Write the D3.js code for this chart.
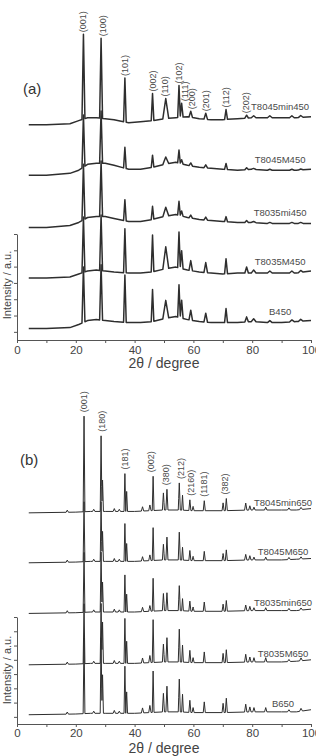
<!DOCTYPE html>
<html>
<head>
<meta charset="utf-8">
<script src="https://cdn.jsdelivr.net/npm/d3@7"></script>
<style>
    html, body { margin: 0; padding: 0; background: #fff; overflow: hidden; }
    svg { display: block; font-family: 'Liberation Sans', Arial, sans-serif; }
</style>
</head>
<body>
<div id="chart"></div>
<script>
// XRD patterns - stacked traces, panel (a) calcined 450, panel (b) calcined 650

// ---- panel (a) ----
const seriesA = ['B450', 'T8035M450', 'T8035mi450', 'T8045M450', 'T8045min450'];
const offsetsA = [2, 33, 64, 96, 127];
const bgGridA = [4, 10, 18, 21, 24, 27, 30, 33, 38, 42, 46, 50, 54, 58, 62, 66, 70, 75, 80, 85, 90, 95, 100];
const bgA = [
    [0, 0, 0.6, 2.5, 4.9, 5.5, 4.9, 4.3, 3.7, 3.7, 4.3, 6.1, 7.4, 5.5, 4.3, 3.7, 3.7, 3.7, 4.3, 3.7, 3.7, 4.3, 4.9],
    [0, 0, 0.6, 2.5, 4.3, 4.9, 4.3, 3.7, 3.1, 3.1, 3.7, 5.5, 6.7, 4.9, 3.7, 3.1, 2.5, 3.1, 3.1, 3.1, 3.1, 3.1, 4.3],
    [0, 0, 1.2, 3.1, 6.1, 6.7, 6.7, 5.5, 3.7, 3.7, 4.9, 6.7, 8, 6.1, 4.9, 4.3, 3.7, 3.1, 3.1, 2.5, 2.5, 2.5, 2.5],
    [0, 0, 1.2, 3.1, 6.7, 7.4, 7.4, 6.1, 3.7, 3.7, 4.9, 6.7, 8, 6.1, 4.9, 4.3, 3.7, 3.1, 3.7, 3.1, 3.1, 3.1, 3.7],
    [0, 0, 0.6, 2.5, 4.3, 4.3, 3.7, 3.1, 1.2, 1.8, 2.5, 3.7, 4.3, 4.9, 3.7, 3.1, 3.1, 3.7, 4.3, 4.3, 4.3, 4.3, 4.9]
];
const peaksA = [22.6, 28.6, 36.7, 46.1, 50.6, 55.1, 56.0, 59.1, 64.2, 71.1, 78.1, 80.5, 86, 93.5, 96.5];
const widthsA = [0.5, 0.5, 0.45, 0.45, 1.0, 0.45, 0.5, 0.6, 0.6, 0.5, 0.6, 0.8, 0.8, 0.8, 0.8];
const heightsA = [
    [34, 34, 29, 19.6, 11, 20, 11, 6.1, 5.5, 8.6, 3.1, 1.8, 1.2, 1.2, 1.2],
    [34, 34, 27, 22.7, 13.5, 22, 11, 6.1, 6.1, 9.2, 3.7, 1.8, 1.2, 1.2, 1.2],
    [34, 34, 12.9, 8, 5.5, 8.6, 3.1, 1.8, 1.8, 3.1, 1.2, 0.6, 0.6, 0.6, 0.6],
    [32, 32, 12.9, 7.4, 4.3, 8, 2.5, 1.8, 1.8, 3.7, 1.2, 0.6, 0.6, 0.6, 0.6],
    [52, 49, 27, 16.6, 12.3, 19.6, 8.6, 3.7, 3.7, 6.1, 1.8, 1.2, 1.2, 1.2, 1.2]
];
const hklA = ['(001)', '(100)', '(101)', '(002)', '(110)', '(102)', '(111)', '(200)', '(201)', '(112)', '(202)'];
const hklPosA = [22.5, 29.3, 36.7, 46.2, 50.3, 55.1, 57.1, 59.5, 64.3, 71.1, 77.9];
const hklPeakA = [0, 1, 2, 3, 4, 5, 6, 7, 8, 9, 10];

// ---- panel (b) ----
const seriesB = ['B650', 'T8035M650', 'T8035min650', 'T8045M650', 'T8045min650'];
const offsetsB = [1.5, 36.5, 72.5, 108, 143];
const bgGridB = [4, 20, 25, 30, 40, 45, 50, 55, 60, 70, 80, 90, 95, 100];
const bgB = [
    [0, 0.5, 1, 1, 1, 1.5, 2, 2, 1.5, 1.5, 2, 2, 2, 3.5],
    [0, 0.5, 1, 1, 1, 1.5, 2, 2, 1.5, 1.5, 2, 2, 2.5, 3.5],
    [0, 0.5, 1, 1, 1, 1.5, 2, 2, 1.5, 1.5, 2, 2, 2, 3],
    [0, 0.5, 1, 1, 1, 1.5, 2, 2, 1.5, 1.5, 2, 2, 2.5, 3],
    [0, 0.5, 1, 1, 1, 1.5, 2, 2, 1.5, 1.5, 2, 2, 2, 3]
];
const peaksB = [17.1, 22.8, 26.1, 28.6, 29.1, 33.1, 34.8, 36.7, 37.3, 42.7, 45.2, 46.3, 49.8, 51.0,
    55.2, 56.3, 58.8, 59.9, 63.7, 70.1, 71.2, 77.8, 79.2, 80.6, 84.6, 92.5, 96.6];
const widthsB = [0.4, 0.3, 0.4, 0.3, 0.3, 0.4, 0.4, 0.3, 0.3, 0.4, 0.4, 0.3, 0.35, 0.35,
    0.35, 0.3, 0.35, 0.35, 0.35, 0.35, 0.35, 0.4, 0.4, 0.4, 0.4, 0.5, 0.5];
const heightsB = [
    [1.5, 53, 1.5, 53, 27, 2, 1.5, 33, 15, 3.5, 5, 29, 13, 18, 23, 12.5, 8.5, 3.5, 7.5, 6.5, 10, 5.5, 3.5, 3, 3, 1.5, 2],
    [1.5, 42, 1.5, 42, 29, 2, 1.5, 31.5, 15.5, 3.5, 5, 30, 12.5, 17, 23, 12, 8.5, 3.5, 7.5, 6.5, 9, 5.5, 3.5, 3, 3, 1.5, 2],
    [1.5, 42, 1.5, 42, 21, 2, 1.5, 26, 12.5, 3, 4, 23, 12, 12.5, 17.5, 8.5, 7, 3, 6.5, 5, 7.5, 4, 3, 2, 2, 1.5, 1.5],
    [1.5, 42, 1.5, 42, 21, 2, 1.5, 26.5, 12.5, 3, 4, 23, 11, 16, 19.5, 9, 7, 3, 6.5, 5, 7.5, 4, 3, 2, 2, 1.5, 1.5],
    [1.5, 67, 1.5, 53, 22, 2, 1.5, 26.5, 14, 3, 4, 24, 12, 14.5, 19, 10.5, 7.5, 3, 7, 5.5, 8.5, 5, 3, 2, 2, 1.5, 1.5]
];
const hklB = ['(001)', '(180)', '(181)', '(002)', '(380)', '(212)', '(2160)', '(1181)', '(382)'];
const hklPosB = [22.9, 28.9, 36.8, 45.7, 50.7, 55.8, 59.1, 63.7, 70.8];
const hklPeakB = [1, 3, 7, 11, 13, 14, 16, 18, 20];

const xTicks = [0, 10, 20, 30, 40, 50, 60, 70, 80, 90, 100];

const width = 316;
const height = 756;

const svg = d3.select('#chart').append('svg')
    .attr('width', width)
    .attr('height', height);

const x = d3.scaleLinear().domain([0, 100]).range([17, 311]);

// trace = background (piecewise) + triangular peaks
function tracePoints(offset, bgGrid, bg, peaks, widths, heights) {
    const bgScale = d3.scaleLinear().domain(bgGrid).range(bg);
    let ts = bgGrid.slice();
    peaks.forEach((p, i) => ts.push(p - widths[i], p, p + widths[i]));
    ts = Array.from(new Set(ts))
        .filter(t => t >= bgGrid[0] && t <= bgGrid[bgGrid.length - 1])
        .sort((a, b) => a - b);
    return ts.map(t => {
        let v = offset + bgScale(t);
        peaks.forEach((p, i) => {
            const d = Math.abs(t - p) / widths[i];
            if (d < 1) v += heights[i] * (1 - d);
        });
        return [t, v];
    });
}

function drawPanel(cfg) {
    const y = d3.scaleLinear().domain(cfg.yDomain).range(cfg.yRange);
    const g = svg.append('g');

    const line = d3.line()
        .x(d => x(d[0]))
        .y(d => y(d[1]));

    cfg.series.forEach((name, k) => {
        const pts = tracePoints(cfg.offsets[k], cfg.bgGrid, cfg.bg[k], cfg.peaks, cfg.widths, cfg.heights[k]);
        g.append('path')
            .attr('d', line(pts))
            .attr('fill', 'none')
            .attr('stroke', '#2e2e2e')
            .attr('stroke-width', cfg.lineWidth)
            .attr('stroke-linejoin', 'round');

        const bgScale = d3.scaleLinear().domain(cfg.bgGrid).range(cfg.bg[k]);
        g.append('text')
            .attr('x', x(cfg.namePos))
            .attr('y', y(cfg.offsets[k] + bgScale(cfg.namePos)) - cfg.nameGap)
            .attr('text-anchor', 'middle')
            .attr('font-size', 9.5)
            .attr('fill', '#4a4a4a')
            .text(name);
    });

    // hkl labels above the top trace
    const top = cfg.series.length - 1;
    const topBg = d3.scaleLinear().domain(cfg.bgGrid).range(cfg.bg[top]);
    cfg.hkl.forEach((lab, i) => {
        const pk = cfg.hklPeak[i];
        const v = cfg.offsets[top] + topBg(cfg.peaks[pk]) + cfg.heights[top][pk];
        const px = x(cfg.hklPos[i]) + 3;
        const py = y(v) - cfg.hklGap;
        g.append('text')
            .attr('transform', `translate(${px},${py}) rotate(-90)`)
            .attr('font-size', 9)
            .attr('fill', '#4a4a4a')
            .text(lab);
    });

    // axes
    const xAxis = g.append('g')
        .attr('transform', `translate(0,${cfg.yRange[0]})`)
        .call(d3.axisBottom(x)
            .tickValues(xTicks)
            .tickSize(3)
            .tickSizeOuter(0)
            .tickPadding(cfg.tickPad)
            .tickFormat(d => d % 20 === 0 ? d : ''));

    const yAxis = g.append('g')
        .attr('transform', `translate(${x(0)},0)`)
        .call(d3.axisLeft(y)
            .tickValues(cfg.yTicks)
            .tickSize(3)
            .tickSizeOuter(0)
            .tickFormat(''));

    [xAxis, yAxis].forEach(ax => {
        ax.attr('font-family', null).attr('font-size', null);
        ax.selectAll('.domain, .tick line').attr('stroke', '#555').attr('stroke-width', 1);
        ax.selectAll('text').attr('fill', '#444').attr('font-size', 11.5);
    });

    g.append('text')
        .attr('x', (x(0) + x(100)) / 2)
        .attr('y', cfg.xTitleY)
        .attr('text-anchor', 'middle')
        .attr('font-size', 14)
        .attr('fill', '#444')
        .text('2θ / degree');

    g.append('text')
        .attr('transform', `translate(10.5,${cfg.yTitleY}) rotate(-90)`)
        .attr('text-anchor', 'middle')
        .attr('font-size', 11)
        .attr('fill', '#444')
        .text('Intensity / a.u.');

    g.append('text')
        .attr('x', cfg.tag[1])
        .attr('y', cfg.tag[2])
        .attr('font-size', 15)
        .attr('fill', '#333')
        .text(cfg.tag[0]);
}

drawPanel({
    series: seriesA, offsets: offsetsA, bgGrid: bgGridA, bg: bgA,
    peaks: peaksA, widths: widthsA, heights: heightsA,
    hkl: hklA, hklPos: hklPosA, hklPeak: hklPeakA, hklGap: 2,
    yDomain: [-5, 60], yRange: [340, 234], yTicks: [0, 10, 20, 30, 40, 50, 60],
    lineWidth: 1.5, namePos: 89.5, nameGap: 7.5, tickPad: 3,
    xTitleY: 368, yTitleY: 285, tag: ['(a)', 23, 94]
});

drawPanel({
    series: seriesB, offsets: offsetsB, bgGrid: bgGridB, bg: bgB,
    peaks: peaksB, widths: widthsB, heights: heightsB,
    hkl: hklB, hklPos: hklPosB, hklPeak: hklPeakB, hklGap: 4,
    yDomain: [-5, 70], yRange: [724, 617], yTicks: [0, 10, 20, 30, 40, 50, 60, 70],
    lineWidth: 1, namePos: 90.5, nameGap: 4.5, tickPad: 2,
    xTitleY: 753, yTitleY: 670, tag: ['(b)', 20, 465]
});
</script>
</body>
</html>
